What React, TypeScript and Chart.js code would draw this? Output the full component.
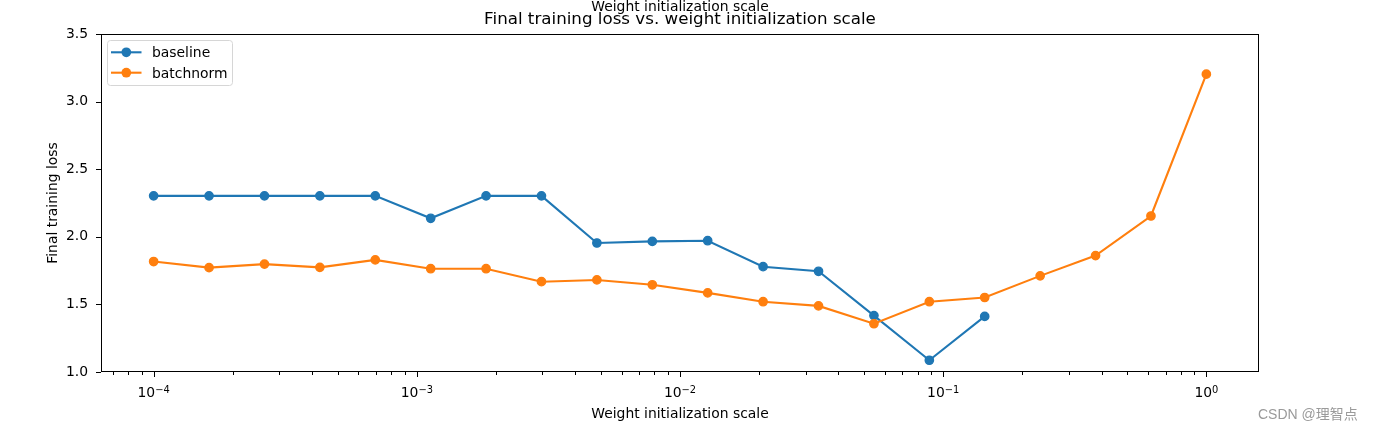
import React, { useEffect, useRef } from "react";
import { Chart, registerables } from "chart.js";

Chart.register(...registerables);

// ---- data ----
const weightScales = [
  1.0e-4, 1.624e-4, 2.637e-4, 4.281e-4, 6.952e-4, 1.129e-3, 1.833e-3, 2.976e-3,
  4.833e-3, 7.848e-3, 1.274e-2, 2.069e-2, 3.36e-2, 5.456e-2, 8.859e-2, 0.1438,
  0.2336, 0.3793, 0.6158, 1.0,
];
const baselineLoss = [
  2.303, 2.303, 2.303, 2.303, 2.303, 2.137, 2.303, 2.303, 1.954, 1.966, 1.971,
  1.779, 1.745, 1.417, 1.087, 1.411,
];
const batchnormLoss = [
  1.817, 1.772, 1.798, 1.774, 1.829, 1.764, 1.764, 1.668, 1.681, 1.645, 1.585,
  1.52, 1.489, 1.357, 1.52, 1.551, 1.711, 1.861, 2.154, 3.203,
];
const seriesNames = ["baseline", "batchnorm"];
const seriesColors = ["#1f77b4", "#ff7f0e"];
const xTickValues = [1e-4, 1e-3, 1e-2, 1e-1, 1];
const xTickBases = ["10", "10", "10", "10", "10"];
const xTickExponents = ["−4", "−3", "−2", "−1", "0"];
const yTickValues = [1.0, 1.5, 2.0, 2.5, 3.0, 3.5];
const yTickLabels = ["1.0", "1.5", "2.0", "2.5", "3.0", "3.5"];
const titleText = "Final training loss vs. weight initialization scale";
const topText = "Weight initialization scale";
const xTitle = "Weight initialization scale";
const yTitle = "Final training loss";
const watermark = "CSDN @理智点";
const xMin = Math.pow(10, -4.2);
const xMax = Math.pow(10, 0.2);
const yMin = 1.0;
const yMax = 3.5;

const FONT = '"DejaVu Sans"';
const FS = 13.9;
const FS_SUP = 9.9;

function minorTicks(): number[] {
  const out: number[] = [];
  for (let e = -5; e <= 0; e++) {
    for (let m = 2; m <= 9; m++) {
      const v = m * Math.pow(10, e);
      if (v >= xMin && v <= xMax) out.push(v);
    }
  }
  return out;
}

const decorPlugin = {
  id: "decor",
  afterDraw(chart: any) {
    const ctx = chart.ctx as CanvasRenderingContext2D;
    const { left, right, top, bottom } = chart.chartArea;
    const xs = chart.scales.x;
    const ys = chart.scales.y;
    ctx.save();
    // spines
    ctx.strokeStyle = "#000";
    ctx.lineWidth = 1;
    ctx.strokeRect(Math.round(left) + 0.5, Math.round(top) + 0.5, Math.round(right - left) - 1, Math.round(bottom - top) - 1);
    // ticks
    ctx.beginPath();
    for (const v of xTickValues) {
      const px = Math.round(xs.getPixelForValue(v)) + 0.5;
      ctx.moveTo(px, bottom);
      ctx.lineTo(px, bottom + 5);
    }
    for (const v of minorTicks()) {
      const px = Math.round(xs.getPixelForValue(v)) + 0.5;
      ctx.moveTo(px, bottom);
      ctx.lineTo(px, bottom + 3);
    }
    for (const v of yTickValues) {
      const py = Math.round(ys.getPixelForValue(v)) + 0.5;
      ctx.moveTo(left - 5, py);
      ctx.lineTo(left, py);
    }
    ctx.stroke();

    // x tick labels (base with superscript exponent)
    ctx.fillStyle = "#000";
    ctx.textBaseline = "alphabetic";
    ctx.textAlign = "left";
    xTickValues.forEach((v, i) => {
      const px = xs.getPixelForValue(v);
      ctx.font = `${FS}px ${FONT}`;
      const w1 = ctx.measureText(xTickBases[i]).width;
      ctx.font = `${FS_SUP}px ${FONT}`;
      const w2 = ctx.measureText(xTickExponents[i]).width;
      const x0 = px - (w1 + w2) / 2;
      ctx.font = `${FS}px ${FONT}`;
      ctx.fillText(xTickBases[i], x0, 397);
      ctx.font = `${FS_SUP}px ${FONT}`;
      ctx.fillText(xTickExponents[i], x0 + w1, 392.6);
    });

    const cx = (left + right) / 2;
    ctx.textAlign = "center";
    ctx.font = `${FS}px ${FONT}`;
    ctx.fillText(topText, cx, 11);
    ctx.font = `16.7px ${FONT}`;
    ctx.fillText(titleText, cx, 24);
    ctx.font = `${FS}px ${FONT}`;
    ctx.fillText(xTitle, cx, 417.5);
    ctx.save();
    ctx.translate(57, (top + bottom) / 2);
    ctx.rotate(-Math.PI / 2);
    ctx.fillText(yTitle, 0, 0);
    ctx.restore();

    // legend
    const lx = left + 6.5;
    const ly = top + 6.5;
    const lw = 125;
    const lh = 45;
    ctx.beginPath();
    (ctx as any).roundRect(lx, ly, lw, lh, 3);
    ctx.fillStyle = "rgba(255,255,255,0.8)";
    ctx.fill();
    ctx.strokeStyle = "#d6d6d6";
    ctx.lineWidth = 1;
    ctx.stroke();
    seriesNames.forEach((name, i) => {
      const yy = top + 18.3 + i * 20.4;
      ctx.strokeStyle = seriesColors[i];
      ctx.lineWidth = 2.1;
      ctx.beginPath();
      ctx.moveTo(left + 10, yy);
      ctx.lineTo(left + 40.5, yy);
      ctx.stroke();
      ctx.fillStyle = seriesColors[i];
      ctx.beginPath();
      ctx.arc(left + 25.3, yy, 4.85, 0, Math.PI * 2);
      ctx.fill();
      ctx.fillStyle = "#000";
      ctx.textAlign = "left";
      ctx.font = `${FS}px ${FONT}`;
      ctx.fillText(name, left + 51, yy + 5);
    });

    // watermark
    ctx.fillStyle = "#9a9a9a";
    ctx.textAlign = "left";
    ctx.font = `14px "Liberation Sans", "Noto Sans CJK SC", sans-serif`;
    ctx.fillText(watermark, 1258, 419);
    ctx.restore();
  },
};

export default function App() {
  const ref = useRef<HTMLCanvasElement>(null);
  useEffect(() => {
    const canvas = ref.current!;
    const mk = (vals: number[]) => vals.map((y, i) => ({ x: weightScales[i], y }));
    const chart = new Chart(canvas, {
      type: "line",
      data: {
        datasets: [
          {
            label: seriesNames[0],
            data: mk(baselineLoss),
            borderColor: seriesColors[0],
            backgroundColor: seriesColors[0],
            pointBackgroundColor: seriesColors[0],
            pointBorderColor: seriesColors[0],
            borderWidth: 2.1,
            pointRadius: 4.15,
            pointBorderWidth: 1.4,
            tension: 0,
            order: 2,
          },
          {
            label: seriesNames[1],
            data: mk(batchnormLoss),
            borderColor: seriesColors[1],
            backgroundColor: seriesColors[1],
            pointBackgroundColor: seriesColors[1],
            pointBorderColor: seriesColors[1],
            borderWidth: 2.1,
            pointRadius: 4.15,
            pointBorderWidth: 1.4,
            tension: 0,
            order: 1,
          },
        ],
      },
      options: {
        animation: false,
        responsive: false,
        devicePixelRatio: 1,
        layout: { padding: { top: 34, right: 114, left: 0, bottom: 0 } },
        plugins: { legend: { display: false }, tooltip: { enabled: false }, title: { display: false } },
        scales: {
          x: {
            type: "logarithmic",
            min: xMin,
            max: xMax,
            border: { display: false },
            grid: { display: false, drawTicks: true, tickLength: 5 },
            afterBuildTicks: (s: any) => {
              s.ticks = xTickValues.map((v) => ({ value: v }));
            },
            afterFit: (s: any) => {
              s.height = 59;
            },
            ticks: {
              display: false,
              autoSkip: false,
              maxRotation: 0,
              minRotation: 0,
            },
          },
          y: {
            type: "linear",
            min: yMin,
            max: yMax,
            border: { display: false },
            grid: { display: false, drawTicks: true, tickLength: 5 },
            afterBuildTicks: (s: any) => {
              s.ticks = yTickValues.map((v) => ({ value: v }));
            },
            afterFit: (s: any) => {
              s.width = 101;
            },
            ticks: {
              padding: 8,
              color: "#000",
              font: { family: "DejaVu Sans", size: FS },
              callback: (_v: any, i: number) => yTickLabels[i],
            },
          },
        },
      },
      plugins: [decorPlugin],
    } as any);
    return () => chart.destroy();
  }, []);
  return (
    <div style={{ position: "fixed", left: 0, top: 0, width: 1373, height: 431, background: "#fff" }}>
      <canvas ref={ref} width={1373} height={431} style={{ display: "block", width: 1373, height: 431 }} />
    </div>
  );
}
